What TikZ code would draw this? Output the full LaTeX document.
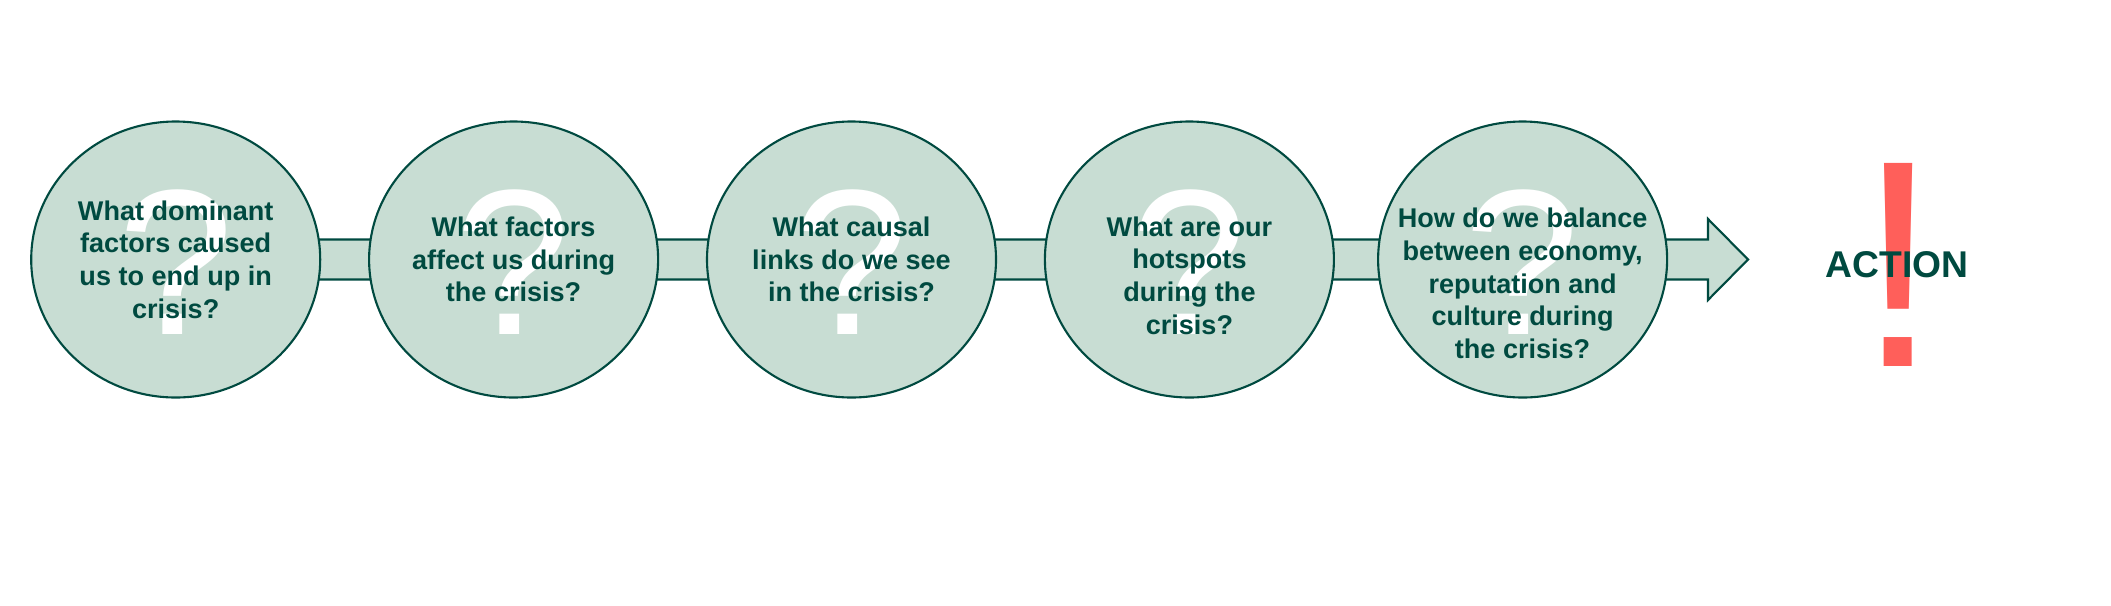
\documentclass[tikz,border=0pt]{standalone}
\usepackage{fontspec}
\setmainfont{Liberation Sans}
\usetikzlibrary{shapes.geometric,calc,backgrounds}
\definecolor{sage}{HTML}{C8DDD3}
\definecolor{pine}{HTML}{004A40}
\definecolor{coral}{HTML}{FF5F5A}

\begin{document}
\begin{tikzpicture}[
    bubble/.style={ellipse, draw=pine, fill=sage, line width=0.6pt, minimum width=2.89cm, minimum height=2.76cm, inner sep=0pt},
    qmark/.style={text=white, inner sep=0pt, font=\fontsize{59}{59}\selectfont},
    question/.style={text=pine, align=center, inner sep=0pt, font=\fontsize{7.7}{9.3}\selectfont\bfseries},
    band/.style={draw=pine, fill=sage, line width=0.6pt, line join=miter}
  ]
    % Fix the page size
    \useasboundingbox (0,0) rectangle (21.11,6.05);

    % Question bubbles
    \foreach \i/\x/\dy/\txt in {
      1/1.757/0/{What dominant\\factors caused\\us to end up in\\crisis?},
      2/5.136/0/{What factors\\affect us during\\the crisis?},
      3/8.515/0/{What causal\\links do we see\\in the crisis?},
      4/11.894/-0.16/{What are our\\hotspots\\during the\\crisis?},
      5/15.226/-0.24/{How do we balance\\between economy,\\reputation and\\culture during\\the crisis?}} {
      \node[bubble] (q\i) at (\x,3.455) {};
      \node[qmark] (m\i) at ([yshift=-0.03cm]q\i.center) {?};
      \node[question] (t\i) at ([yshift=\dy cm]q\i.center) {\txt};
    }

    % Arrow behind the bubbles
    \coordinate (tip) at (17.48,3.455);
    \begin{scope}[on background layer]
      \draw[band] ([yshift=0.2cm]q1.center) -- ($(tip)+(-0.4,0.2)$) -- ($(tip)+(-0.4,0.405)$) -- (tip)
        -- ($(tip)+(-0.4,-0.405)$) -- ($(tip)+(-0.4,-0.2)$) -- ([yshift=-0.2cm]q1.center) -- cycle;
    \end{scope}

    % Action
    \node[text=coral, inner sep=0pt, font=\fontsize{84}{84}\selectfont] (bang) at (18.98,3.40) {!};
    \node[text=pine, inner sep=0pt, font=\fontsize{10.6}{12}\selectfont\bfseries] (action) at (18.97,3.407) {ACTION};

\end{tikzpicture}
\end{document}
